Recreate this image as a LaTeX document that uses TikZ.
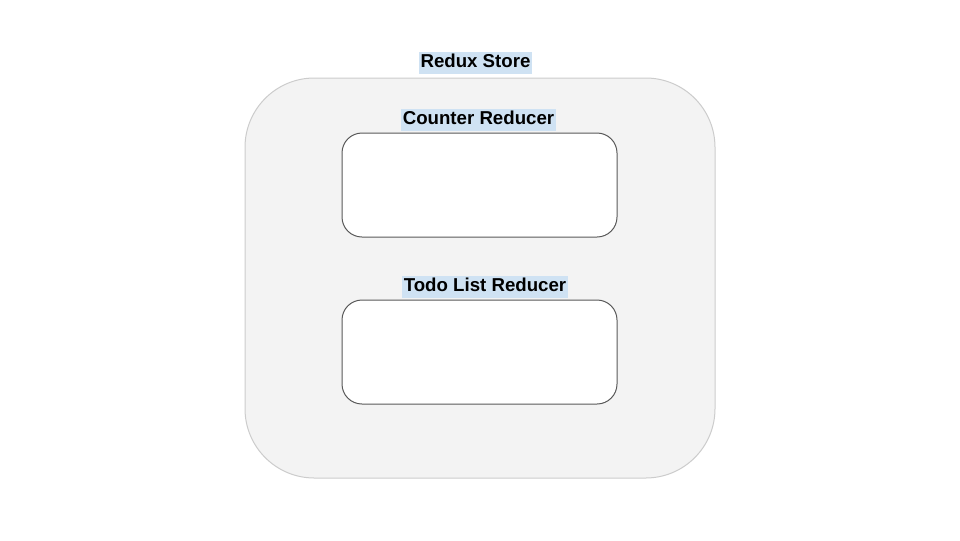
\documentclass[tikz,border=0pt]{standalone}
\usepackage{fontspec}
\setmainfont{Liberation Sans}
\definecolor{hl}{HTML}{CFE2F3}
\definecolor{storefill}{HTML}{F3F3F3}
\definecolor{storeline}{HTML}{CCCCCC}
\definecolor{boxline}{HTML}{595959}
\begin{document}
\begin{tikzpicture}[x=0.75pt,y=-0.75pt,
  lbl/.style={fill=hl,font=\fontsize{14pt}{16pt}\selectfont\bfseries,inner xsep=1pt,inner ysep=0pt,text height=11.5pt,text depth=4.5pt},
  store/.style={draw=storeline,fill=storefill,line width=0.75pt,rounded corners=52pt},
  reducer/.style={draw=boxline,fill=white,line width=0.75pt,rounded corners=15pt}]
\useasboundingbox (0,0) rectangle (960,540);
\fill[white] (0,0) rectangle (960,540);
\draw[store] (245,78) rectangle (715,478);
\node[lbl] (storelbl) at (475.5,63) {Redux Store};
\draw[reducer] (342,133) rectangle (617,237);
\node[lbl] (counterlbl) at (478.5,120) {Counter Reducer};
\draw[reducer] (342,300) rectangle (617,404);
\node[lbl] (todolbl) at (485,287) {Todo List Reducer};
\end{tikzpicture}
\end{document}
